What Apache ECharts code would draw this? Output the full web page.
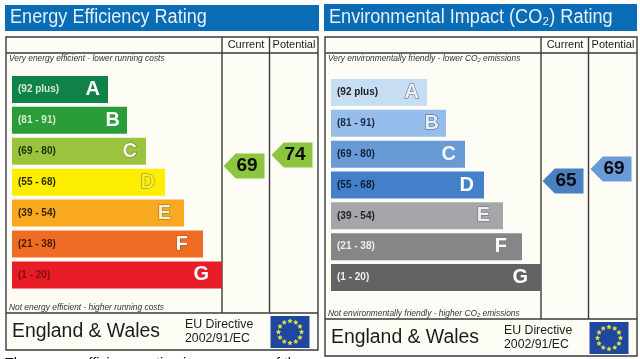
<!DOCTYPE html>
<html>
<head>
<meta charset="utf-8">
<style>
html, body { margin: 0; padding: 0; background: #fff; overflow: hidden; }
#chart { width: 640px; height: 359px; }
</style>
<script src="https://cdn.jsdelivr.net/npm/echarts@6/dist/echarts.min.js"></script>
</head>
<body>
<div id="chart"></div>
<script>
const bands = ['(92 plus)', '(81 - 91)', '(69 - 80)', '(55 - 68)', '(39 - 54)', '(21 - 38)', '(1 - 20)']
const letters = ['A', 'B', 'C', 'D', 'E', 'F', 'G']
const energyLengths = [96, 115, 134, 153, 172, 191, 210]
const co2Lengths = [96, 115, 134, 153, 172, 191, 210]
const columns = ['Current', 'Potential']
const energyRatings = [69, 74]
const co2Ratings = [65, 69]

const energyColors = ['#0f8249', '#2a9c3a', '#9ac43e', '#fdee00', '#f8a91f', '#ee6c24', '#e71c26']
const energyBandText = ['#d8e8c8', '#d8ecc8', '#20300a', '#2a2a00', '#3a2400', '#4a1a00', '#7a1010']
const energyLetterFill = ['#fff', '#fff', '#f6f8e8', '#f8ec30', '#fbeecb', '#fff', '#fff']
const energyLetterLine = ['#0f8249', '#2a9c3a', '#5f6f30', '#8c8428', '#8c6c28', '#b04c18', '#e71c26']
const co2Colors = ['#c6ddf4', '#96bdeb', '#689ad6', '#4480c9', '#a4a6a9', '#848688', '#626365']
const co2BandText = ['#222', '#1a2a40', '#102038', '#101c30', '#222', '#eee', '#eee']
const co2LetterFill = ['#e8f0f8', '#e4eef8', '#f2f6fb', '#fff', '#eee', '#fff', '#fff']
const co2LetterLine = ['#5c6670', '#4a5a70', '#689ad6', '#4480c9', '#6c6c6c', '#848688', '#626365']
const letterInset = [8, 7, 9, 10, 13, 15, 13]

const font = '"Liberation Sans", Arial, sans-serif'

function textEl(x, y, text, size, opts, scaleX) {
    return {
        type: 'text', x, y, z: 1, silent: true, scaleX: scaleX || 1,
        style: Object.assign({
            text, fontFamily: font, fontSize: size, fill: '#222',
            verticalAlign: 'middle',
        }, opts || {}),
    }
}

function rectEl(x, y, w, h, fill, stroke) {
    return {
        type: 'rect', z: 0, silent: true,
        shape: { x, y, width: w, height: h },
        style: { fill, stroke: stroke || null, lineWidth: stroke ? 1.4 : 0 },
    }
}

function lineEl(x1, y1, x2, y2) {
    return {
        type: 'line', z: 1, silent: true,
        shape: { x1, y1, x2, y2 },
        style: { stroke: '#3a3a3a', lineWidth: 1.4 },
    }
}

function euFlag(x, y, w, h) {
    const els = [rectEl(x, y, w, h, '#1f47a0')]
    const cx = x + w / 2, cy = y + h / 2
    for (let i = 0; i < 12; i++) {
        const a = i * Math.PI / 6
        const sx = cx + Math.sin(a) * 11.5, sy = cy - Math.cos(a) * 11
        const pts = []
        for (let k = 0; k < 10; k++) {
            const r = k % 2 ? 1.4 : 2.7
            const b = k * Math.PI / 5
            pts.push([sx + Math.sin(b) * r, sy - Math.cos(b) * r])
        }
        els.push({ type: 'polygon', z: 1, silent: true, shape: { points: pts }, style: { fill: '#d8df3a' } })
    }
    return els
}

function panel(p) {
    return [
        rectEl(p.x, p.titleY, p.w, p.titleH, '#0a6cb4'),
        textEl(p.x + 5, p.titleY + p.titleH / 2 - 0.5, p.title, 20, { fill: '#e4f1f8' }, p.titleScale),
        rectEl(p.fx, 37, p.fw, p.fb - 37, '#fdfdf6', '#3a3a3a'),
        lineEl(p.fx, 53, p.fx + p.fw, 53),
        lineEl(p.c1, 37, p.c1, p.foot),
        lineEl(p.c2, 37, p.c2, p.foot),
        lineEl(p.fx, p.foot, p.fx + p.fw, p.foot),
        textEl(p.c1 + 24, 45, 'Current', 11, { align: 'center' }),
        textEl(p.c2 + 24.5, 45, 'Potential', 11, { align: 'center' }),
        textEl(p.fx + 3, 59, p.top, 8.4, { fontStyle: 'italic', fill: '#333' }),
        textEl(p.fx + 3, p.foot - 5.5, p.bottom, 8.4, { fontStyle: 'italic', fill: '#333' }),
        textEl(p.fx + 6, p.foot + 19, 'England & Wales', 19.4, { fill: '#1c1c1c' }),
        textEl(p.fx + 179, p.foot + 11.5, 'EU Directive', 12.3, { fill: '#1c1c1c' }),
        textEl(p.fx + 179, p.foot + 26, '2002/91/EC', 12.3, { fill: '#1c1c1c' }),
    ].concat(euFlag(p.c2 + 1, p.foot + 3, 39, 32))
}

const graphicEls = [].concat(
    panel({
        x: 5, w: 314, titleY: 5, titleH: 26, fx: 6, fw: 312, fb: 350, foot: 313, c1: 222, c2: 269.5, titleScale: 0.905,
        title: 'Energy Efficiency Rating',
        top: 'Very energy efficient - lower running costs',
        bottom: 'Not energy efficient - higher running costs',
    }),
    panel({
        x: 324, w: 313, titleY: 4, titleH: 27, fx: 325, fw: 312, fb: 356, foot: 319, c1: 541, c2: 588.5, titleScale: 0.905,
        title: 'Environmental Impact (CO\u2082) Rating',
        top: 'Very environmentally friendly - lower CO\u2082 emissions',
        bottom: 'Not environmentally friendly - higher CO\u2082 emissions',
    }),
    [textEl(5, 364, 'The energy efficiency rating is a measure of the', 14.2, { fill: '#111' })]
)

function barSeries(gridIndex, lengths, colors, bandText, letterFill, letterLine) {
    return [
        {
            type: 'bar', xAxisIndex: gridIndex, yAxisIndex: gridIndex, barWidth: 27, z: 3,
            data: lengths.map((v, i) => ({
                value: v,
                itemStyle: { color: colors[i] },
                label: { color: bandText[i] },
            })),
            label: {
                show: true, position: 'insideLeft', distance: 6,
                formatter: (d) => bands[d.dataIndex],
                fontFamily: font, fontWeight: 'bold', fontSize: 10,
            },
        },
        {
            type: 'bar', xAxisIndex: gridIndex, yAxisIndex: gridIndex, barWidth: 27, barGap: '-100%', z: 4,
            data: lengths.map((v, i) => ({
                value: v,
                itemStyle: { color: 'transparent' },
                label: {
                    color: letterFill[i], textBorderColor: letterLine[i], textBorderWidth: 1,
                    distance: letterInset[i],
                },
            })),
            label: {
                show: true, position: 'insideRight',
                formatter: (d) => letters[d.dataIndex],
                fontFamily: font, fontWeight: 'bold', fontSize: 20,
            },
        },
    ]
}

function arrowSeries(gridIndex, ratings, colors) {
    return {
        type: 'scatter', xAxisIndex: gridIndex, yAxisIndex: gridIndex, z: 5,
        symbol: 'path://M0,50 L30,0 L100,0 L100,100 L30,100 Z',
        symbolSize: [41, 25], symbolKeepAspect: false,
        data: ratings.map((v, i) => ({
            value: [columns[i], v],
            itemStyle: { color: colors[i], opacity: 1 },
        })),
        label: {
            show: true, position: 'inside', offset: [3, 0],
            formatter: (d) => d.value[1],
            fontFamily: font, fontWeight: 'bold', fontSize: 19, color: '#0c0c0c',
        },
    }
}

const hidden = { show: false }

const option = {
    animation: false,
    backgroundColor: '#ffffff',
    graphic: graphicEls,
    grid: [
        { left: 12, top: 74, width: 210, height: 216.4 },
        { left: 220, top: 70, width: 96, height: 230 },
        { left: 331, top: 77, width: 210, height: 216 },
        { left: 539, top: 70, width: 96, height: 230 },
    ],
    xAxis: [
        { type: 'value', gridIndex: 0, min: 0, max: 210, ...hidden },
        { type: 'category', gridIndex: 1, data: columns, ...hidden },
        { type: 'value', gridIndex: 2, min: 0, max: 210, ...hidden },
        { type: 'category', gridIndex: 3, data: columns, ...hidden },
    ],
    yAxis: [
        { type: 'category', gridIndex: 0, data: letters, inverse: true, ...hidden },
        { type: 'value', gridIndex: 1, min: 8.1, max: 112.6, ...hidden },
        { type: 'category', gridIndex: 2, data: letters, inverse: true, ...hidden },
        { type: 'value', gridIndex: 3, min: 25.3, max: 102, ...hidden },
    ],
    series: [
        ...barSeries(0, energyLengths, energyColors, energyBandText, energyLetterFill, energyLetterLine),
        arrowSeries(1, energyRatings, ['#8cc63f', '#8cc63f']),
        ...barSeries(2, co2Lengths, co2Colors, co2BandText, co2LetterFill, co2LetterLine),
        arrowSeries(3, co2Ratings, ['#4a7fc1', '#6a9bd8']),
    ],
}

const myChart = echarts.init(document.getElementById('chart'))
myChart.setOption(option)
</script>
</body>
</html>
